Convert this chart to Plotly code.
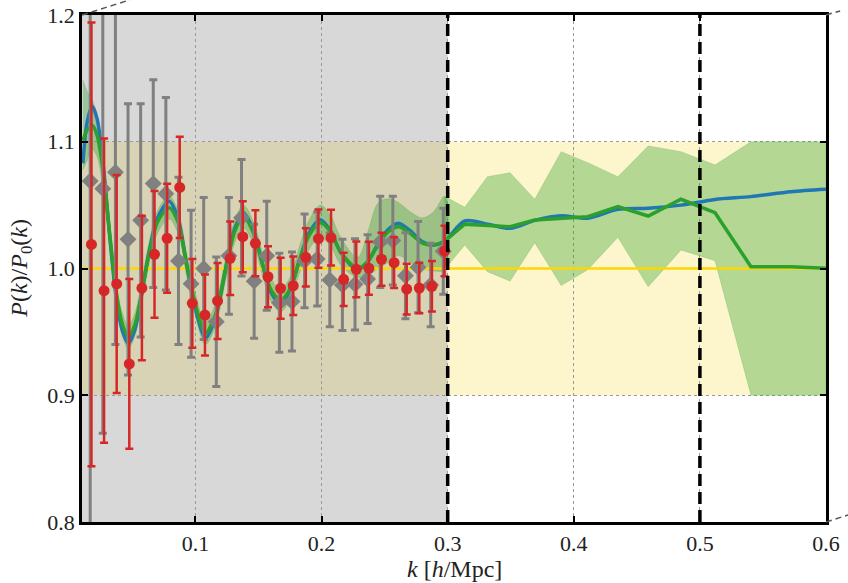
import plotly.graph_objects as go

# ---------------- data ----------------
# red points (measurement 1)
red_k = [0.0175, 0.0275, 0.0375, 0.0475, 0.0575, 0.0675, 0.0775, 0.0875, 0.0975, 0.1075,
         0.1175, 0.1275, 0.1375, 0.1475, 0.1575, 0.1675, 0.1775, 0.1875, 0.1975, 0.2075,
         0.2175, 0.2275, 0.2375, 0.2475, 0.2575, 0.2675, 0.2775, 0.2875, 0.2975]
red_vals = [1.019, 0.9825, 0.9878, 0.9247, 0.9846, 1.0112, 1.0238, 1.064, 0.9725, 0.9633,
            0.9744, 1.008, 1.0251, 1.0199, 0.9935, 0.9844, 0.9864, 1.0088, 1.0235, 1.0243,
            0.9915, 0.9994, 1.0002, 1.0073, 1.0046, 0.9838, 0.9846, 0.986, 1.0138]
red_err = [0.175, 0.12, 0.086, 0.067, 0.057, 0.05, 0.043, 0.04, 0.035, 0.032,
           0.03, 0.029, 0.028, 0.026, 0.024, 0.024, 0.023, 0.023, 0.023, 0.022,
           0.021, 0.022, 0.021, 0.021, 0.02, 0.02, 0.02, 0.02, 0.02]

# gray diamonds (measurement 2)
gray_k = [0.0165, 0.0265, 0.0365, 0.0465, 0.0565, 0.0665, 0.0765, 0.0865, 0.0965, 0.1065,
          0.1165, 0.1265, 0.1365, 0.1465, 0.1565, 0.1665, 0.1765, 0.1865, 0.1965, 0.2065,
          0.2165, 0.2265, 0.2365, 0.2465, 0.2565, 0.2665, 0.2765, 0.2865, 0.2965]
gray_vals = [1.069, 1.063, 1.076, 1.023, 1.038, 1.067, 1.059, 1.006, 0.988, 1.0,
             0.958, 1.010, 1.040, 0.990, 1.010, 0.973, 0.974, 1.006, 1.0075, 0.991,
             0.987, 0.9875, 0.9917, 1.021, 1.022, 0.9943, 1.001, 0.987, 1.0136]
gray_err = [0.35, 0.193, 0.136, 0.107, 0.092, 0.082, 0.076, 0.066, 0.058, 0.056,
            0.051, 0.046, 0.046, 0.045, 0.043, 0.039, 0.039, 0.037, 0.037, 0.037,
            0.036, 0.036, 0.035, 0.036, 0.035, 0.034, 0.036, 0.033, 0.034]

# blue model curve
blue_k = [0.0107, 0.014, 0.018, 0.022, 0.027, 0.032, 0.037, 0.042, 0.0468, 0.052,
          0.057, 0.063, 0.070, 0.079, 0.086, 0.093, 0.100, 0.108, 0.116, 0.124,
          0.131, 0.138, 0.146, 0.153, 0.160, 0.1675, 0.175, 0.182, 0.190, 0.199,
          0.207, 0.215, 0.2285, 0.237, 0.245, 0.253, 0.261, 0.270, 0.280, 0.289,
          0.2975, 0.3135, 0.3315, 0.3495, 0.369, 0.39, 0.411, 0.435, 0.459, 0.485,
          0.512, 0.5405, 0.572, 0.6]
blue_vals = [1.083, 1.115, 1.128, 1.118, 1.08, 1.025, 0.978, 0.951, 0.941, 0.952,
             0.978, 1.012, 1.040, 1.053, 1.040, 1.003, 0.968, 0.945, 0.962, 1.000,
             1.031, 1.044, 1.030, 1.004, 0.981, 0.9725, 0.983, 1.005, 1.028, 1.0385,
             1.030, 1.013, 0.9988, 1.006, 1.020, 1.031, 1.0357, 1.030, 1.021, 1.0186,
             1.0215, 1.0375, 1.035, 1.0317, 1.038, 1.0417, 1.0396, 1.0467, 1.0475, 1.050,
             1.0545, 1.0567, 1.0606, 1.0625]

# green curve, finely sampled part (k <= 0.3)
green_fine_k = [0.0107, 0.014, 0.018, 0.022, 0.027, 0.032, 0.037, 0.042, 0.0468, 0.052,
                0.057, 0.063, 0.070, 0.079, 0.086, 0.093, 0.100, 0.108, 0.116, 0.124,
                0.131, 0.138, 0.146, 0.153, 0.160, 0.1675, 0.175, 0.182, 0.190, 0.199,
                0.207, 0.215, 0.2285, 0.237, 0.245, 0.253, 0.261, 0.270, 0.280, 0.289,
                0.2975]
green_fine_vals = [1.101, 1.109, 1.113, 1.105, 1.075, 1.027, 0.982, 0.956, 0.946, 0.956,
                   0.979, 1.011, 1.037, 1.048, 1.037, 1.003, 0.971, 0.949, 0.964, 1.0,
                   1.029, 1.041, 1.028, 1.004, 0.983, 0.975, 0.984, 1.005, 1.026, 1.036,
                   1.029, 1.013, 1.0, 1.006, 1.019, 1.029, 1.033, 1.028, 1.020, 1.0186,
                   1.0215]
green_fine_upper = [1.149, 1.140, 1.133, 1.122, 1.090, 1.037, 0.991, 0.965, 0.955, 0.965,
                    0.988, 1.020, 1.046, 1.057, 1.046, 1.012, 0.980, 0.958, 0.973, 1.009,
                    1.038, 1.050, 1.037, 1.013, 0.992, 0.984, 0.993, 1.016, 1.038, 1.050,
                    1.042, 1.025, 1.009, 1.030, 1.052, 1.055, 1.052, 1.045, 1.040, 1.045,
                    1.057]
green_fine_lower = [1.078, 1.085, 1.094, 1.088, 1.060, 1.017, 0.973, 0.947, 0.937, 0.947,
                    0.970, 1.002, 1.028, 1.039, 1.028, 0.994, 0.962, 0.940, 0.955, 0.991,
                    1.020, 1.032, 1.019, 0.995, 0.974, 0.966, 0.975, 0.995, 1.015, 1.024,
                    1.018, 1.003, 0.993, 0.995, 1.000, 1.005, 1.010, 1.005, 1.000, 0.998,
                    0.999]

# green curve, coarse part (k >= 0.3)
green_coarse_k = [0.2975, 0.3135, 0.3315, 0.3495, 0.369, 0.39, 0.411, 0.435, 0.459, 0.485,
                  0.512, 0.5405, 0.572, 0.6]
green_coarse_vals = [1.0215, 1.035, 1.034, 1.033, 1.0383, 1.0396, 1.0409, 1.0488, 1.0414, 1.0546,
                     1.044, 1.0014, 1.0014, 1.0002]
green_coarse_upper = [1.057, 1.0483, 1.0724, 1.0756, 1.0546, 1.0922, 1.0835, 1.0724, 1.0967, 1.0922,
                      1.0817, 1.1, 1.1, 1.1]
green_coarse_lower = [0.999, 1.0186, 0.9975, 0.9901, 1.0204, 0.9865, 0.999, 1.0246, 0.9857, 1.0146,
                      1.0062, 0.90, 0.90, 0.90]

# reference line
ref_k = [0.01, 0.6]
ref_vals = [1.0, 1.0]

x_ticks = [0.1, 0.2, 0.3, 0.4, 0.5, 0.6]
x_tick_labels = ["0.1", "0.2", "0.3", "0.4", "0.5", "0.6"]
y_ticks = [0.8, 0.9, 1.0, 1.1, 1.2]
y_tick_labels = ["0.8", "0.9", "1.0", "1.1", "1.2"]

x_range = [0.01, 0.6]
y_range = [0.8, 1.2]
k_cut = 0.3
k_cut2 = 0.5
band_lo, band_hi = 0.9, 1.1

x_title = "<i>k</i> [<i>h</i>/Mpc]"
y_title = "<i>P</i>(<i>k</i>)/<i>P</i><sub>0</sub>(<i>k</i>)"

# ---------------- figure ----------------
SERIF = "Liberation Serif, DejaVu Serif, serif"
BAND = "rgba(44,160,44,0.35)"
fig = go.Figure()

fig.add_trace(go.Scatter(
    x=green_fine_k + green_fine_k[::-1],
    y=green_fine_upper + green_fine_lower[::-1],
    fill="toself", fillcolor=BAND, line=dict(width=0.8, color="rgba(44,160,44,0.25)", shape="spline"),
    mode="lines", hoverinfo="skip", showlegend=False))
fig.add_trace(go.Scatter(
    x=green_coarse_k + green_coarse_k[::-1],
    y=green_coarse_upper + green_coarse_lower[::-1],
    fill="toself", fillcolor=BAND, line=dict(width=0.8, color="rgba(44,160,44,0.25)"),
    mode="lines", hoverinfo="skip", showlegend=False))

fig.add_trace(go.Scatter(x=ref_k, y=ref_vals, mode="lines",
                         line=dict(color="#ffd700", width=2.5), showlegend=False))

fig.add_trace(go.Scatter(x=blue_k, y=blue_vals, mode="lines",
                         line=dict(color="#1f77b4", width=3.5, shape="spline", smoothing=0.8),
                         showlegend=False))
fig.add_trace(go.Scatter(x=green_fine_k, y=green_fine_vals, mode="lines",
                         line=dict(color="#2ca02c", width=3.5, shape="spline", smoothing=0.8),
                         showlegend=False))
fig.add_trace(go.Scatter(x=green_coarse_k, y=green_coarse_vals, mode="lines",
                         line=dict(color="#2ca02c", width=3.5), showlegend=False))

fig.add_trace(go.Scatter(
    x=gray_k, y=gray_vals, mode="markers",
    marker=dict(symbol="diamond", size=13, color="#808080"),
    error_y=dict(type="data", array=gray_err, color="#808080", thickness=3, width=4),
    showlegend=False))
fig.add_trace(go.Scatter(
    x=red_k, y=red_vals, mode="markers",
    marker=dict(symbol="circle", size=11, color="#d62728"),
    error_y=dict(type="data", array=red_err, color="#d62728", thickness=2.5, width=4),
    showlegend=False))

shapes = [
    dict(type="rect", xref="x", yref="y", x0=x_range[0], x1=k_cut, y0=y_range[0], y1=y_range[1],
         fillcolor="#d8d8d8", line_width=0, layer="below"),
    dict(type="rect", xref="x", yref="y", x0=x_range[0], x1=k_cut, y0=band_lo, y1=band_hi,
         fillcolor="#d8d3b4", line_width=0, layer="below"),
    dict(type="rect", xref="x", yref="y", x0=k_cut, x1=x_range[1], y0=band_lo, y1=band_hi,
         fillcolor="#fdf5cc", line_width=0, layer="below"),
    dict(type="line", xref="x", yref="y", x0=k_cut, x1=k_cut, y0=y_range[0], y1=y_range[1],
         line=dict(color="black", width=3.5, dash="12px,6px"), layer="above"),
    dict(type="line", xref="x", yref="y", x0=k_cut2, x1=k_cut2, y0=y_range[0], y1=y_range[1],
         line=dict(color="black", width=3.5, dash="12px,6px"), layer="above"),
    # stray dashed connector lines outside the axes
    dict(type="line", xref="paper", yref="paper", x0=0.0, y0=1.0, x1=0.0645, y1=1.03,
         line=dict(color="#555555", width=1.5, dash="6px,4px"), layer="above"),
    dict(type="line", xref="paper", yref="paper", x0=1.0, y0=1.0, x1=1.019, y1=1.008,
         line=dict(color="#555555", width=1.5, dash="6px,4px"), layer="above"),
    dict(type="line", xref="paper", yref="paper", x0=1.0, y0=0.0, x1=1.03, y1=0.014,
         line=dict(color="#555555", width=1.5, dash="6px,4px"), layer="above"),
]

annotations = [
    dict(text=x_title, xref="paper", yref="paper", x=0.5, y=-0.092, xanchor="center", yanchor="middle",
         showarrow=False, font=dict(family=SERIF, size=24, color="#222222")),
    dict(text=y_title, xref="paper", yref="paper", x=-0.083, y=0.5, xanchor="center", yanchor="middle",
         textangle=-90, showarrow=False, font=dict(family=SERIF, size=24, color="#222222")),
]

axis_common = dict(
    showline=True, linecolor="black", linewidth=2.5, mirror="ticks",
    ticks="inside", ticklen=6, tickwidth=2, tickcolor="black",
    showgrid=True, gridcolor="#9a9a9a", gridwidth=1, griddash="dot",
    zeroline=False, automargin=False, ticklabeloverflow="allow",
    tickfont=dict(family=SERIF, size=22, color="#222222"),
)

fig.update_layout(
    width=848, height=583,
    margin=dict(l=82, r=22, t=15, b=61, autoexpand=False),
    paper_bgcolor="white", plot_bgcolor="white",
    shapes=shapes,
    annotations=annotations,
    showlegend=False,
    hovermode=False,
    xaxis=dict(range=x_range, tickvals=x_ticks, ticktext=x_tick_labels, **axis_common),
    yaxis=dict(range=y_range, tickvals=y_ticks, ticktext=y_tick_labels, **axis_common),
)

# remove the default 8px page margin so the figure fills the window exactly
fig.write_html("out.html",
               config={"displayModeBar": False},
               post_script="document.body.style.margin='0px';document.body.style.overflow='hidden';")
